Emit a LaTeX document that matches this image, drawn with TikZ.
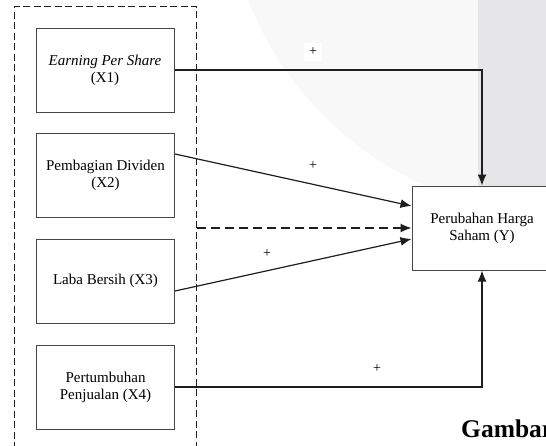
\documentclass[tikz,border=0pt]{standalone}
\usepackage{fontspec}
\setmainfont{Liberation Serif}
\usetikzlibrary{arrows.meta,positioning}
\definecolor{wmlight}{HTML}{F8F8F8}
\definecolor{wmdark}{HTML}{E6E6E8}
\definecolor{linec}{HTML}{1E1E1E}
\definecolor{boxc}{HTML}{454545}
\tikzset{
  varbox/.style={draw=boxc, line width=1pt, fill=white, minimum width=138pt, minimum height=84pt, inner sep=0pt, align=center, font=\fontsize{15}{17}\selectfont},
  conn/.style={draw=linec, line width=1.2pt, -{Latex[length=11pt,width=9pt]}},
  sign/.style={fill=white, inner sep=5pt, font=\fontsize{14}{14}\selectfont},
  grpbox/.style={draw=linec, line width=1pt, dash pattern=on 7pt off 3.5pt, minimum width=182pt, minimum height=460pt, inner sep=0pt},
}
\begin{document}
\begin{tikzpicture}[x=1pt,y=-1pt]
\clip (0,0) rectangle (546,445);
% watermark background
\fill[wmlight] (560,-120) circle (334);
\begin{scope}
  \clip (560,-120) circle (334);
  \fill[wmdark] (478,-10) rectangle (560,260);
\end{scope}
% group dashed box
\node[grpbox] (grp) at (105.8,236) {};
% variable boxes
\node[varbox] (x1) at (105,70) {\textit{Earning Per Share}\\(X1)};
\node[varbox] (x2) at (105.5,175.5) {Pembagian Dividen\\(X2)};
\node[varbox] (x3) at (105.5,281) {Laba Bersih (X3)};
\node[varbox] (x4) at (105.5,387) {Pertumbuhan\\Penjualan (X4)};
\node[varbox, minimum width=140pt] (y) at (482,228) {Perubahan Harga\\Saham (Y)};
% connectors
\draw[conn] (x1.east) -| (y.north);
\draw[conn] (x4.east) -| (y.south);
\draw[conn] ([yshift=21.5pt]x2.east) -- ([yshift=22pt]y.west);
\draw[conn] ([yshift=-10pt]x3.east) -- ([yshift=-11pt]y.west);
\draw[conn, dash pattern=on 9pt off 5pt] (grp.east |- y.west) -- (y.west);
% signs
\node[sign] (s1) at (313,52) {+};
\node[sign] (s2) at (313,166) {+};
\node[sign] (s3) at (267,254) {+};
\node[sign] (s4) at (377,369) {+};
% caption fragment
\node[anchor=base west, inner sep=0pt, font=\fontsize{25.5}{27}\selectfont\bfseries] (cap) at (461,437) {Gambar};
\end{tikzpicture}
\end{document}
